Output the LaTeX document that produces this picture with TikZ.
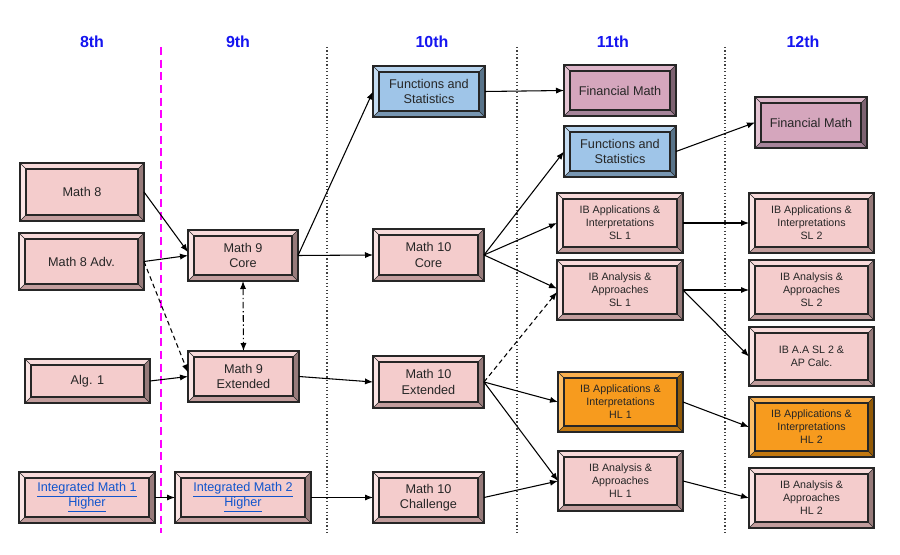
\documentclass[tikz,border=0pt]{standalone}
\usepackage{fontspec}
\setmainfont{Liberation Sans}
\usetikzlibrary{arrows.meta,fit}
\definecolor{pkM}{HTML}{F4CCCC}\definecolor{pkT}{HTML}{F8DADA}\definecolor{pkL}{HTML}{FAE4E4}\definecolor{pkB}{HTML}{C29D9D}\definecolor{pkR}{HTML}{977B7B}
\definecolor{blM}{HTML}{9FC5E8}\definecolor{blT}{HTML}{B7D4EE}\definecolor{blL}{HTML}{C6DDF2}\definecolor{blB}{HTML}{7796B2}\definecolor{blR}{HTML}{587389}
\definecolor{mvM}{HTML}{D5A6BD}\definecolor{mvT}{HTML}{DDB6C9}\definecolor{mvL}{HTML}{E5C5D4}\definecolor{mvB}{HTML}{A6849A}\definecolor{mvR}{HTML}{7D6271}
\definecolor{orM}{HTML}{F79B1E}\definecolor{orT}{HTML}{FAB04E}\definecolor{orL}{HTML}{FDBE66}\definecolor{orB}{HTML}{C27810}\definecolor{orR}{HTML}{935A06}
\definecolor{hdr}{HTML}{1515F0}
\definecolor{lnk}{HTML}{1155CC}
\definecolor{mag}{HTML}{FF00FF}
\newcommand\ibf{\fontsize{8}{9.7}\selectfont}
\newcommand\bgf{\fontsize{9.5}{11.3}\selectfont}
\newcommand\bevbox[8]{%
 \node[fit={(#2,#3)(#4,#5)},inner sep=0pt,outer sep=0pt] (#1) {};
 \fill[#6M] (#1.north west) rectangle (#1.south east);
 \fill[#6T] (#1.north west) -- (#1.north east) -- ([shift={(-6,6)}]#1.north east) -- ([shift={(6,6)}]#1.north west) -- cycle;
 \fill[#6L] (#1.north west) -- ([shift={(6,6)}]#1.north west) -- ([shift={(6,-6)}]#1.south west) -- (#1.south west) -- cycle;
 \fill[#6B] (#1.south west) -- ([shift={(6,-6)}]#1.south west) -- ([shift={(-6,-6)}]#1.south east) -- (#1.south east) -- cycle;
 \fill[#6R] (#1.north east) -- (#1.south east) -- ([shift={(-6,-6)}]#1.south east) -- ([shift={(-6,6)}]#1.north east) -- cycle;
 \draw[boxline] (#1.north west) rectangle (#1.south east);
 \draw[boxline] ([shift={(6,6)}]#1.north west) rectangle ([shift={(-6,-6)}]#1.south east);
 \draw[boxline,line width=0.5pt] (#1.north west) -- ([shift={(6,6)}]#1.north west)
   (#1.north east) -- ([shift={(-6,6)}]#1.north east)
   (#1.south west) -- ([shift={(6,-6)}]#1.south west)
   (#1.south east) -- ([shift={(-6,-6)}]#1.south east);
 \node[align=center,text=black!85,inner sep=0pt,#7] (#1t) at (#1.center) {#8};
}
\tikzset{
 boxline/.style={draw=black!85,line width=0.9pt},
 big/.style={font=\bgf},
 small/.style={font=\ibf},
 link/.style={font=\bgf,text=lnk},
 arr/.style={-{Latex[length=6pt,width=4.6pt]},line width=0.8pt,black},
 dsh/.style={arr,dash pattern=on 3.5pt off 2.5pt},
 hdrtxt/.style={text=hdr,font=\bfseries\fontsize{12}{14}\selectfont},
 dotl/.style={black!75,line width=0.9pt,dash pattern=on 0.9pt off 1.7pt},
}
\begin{document}
\begin{tikzpicture}[x=0.75pt,y=-0.75pt]
\useasboundingbox (0,0) rectangle (900,555);
% headers
\node[hdrtxt] (h8) at (92,42) {8th};
\node[hdrtxt] (h9) at (238,42) {9th};
\node[hdrtxt] (h10) at (432,42) {10th};
\node[hdrtxt] (h11) at (613,42) {11th};
\node[hdrtxt] (h12) at (803,42) {12th};
% separators
\coordinate (s1a) at (161,47); \coordinate (s1b) at (161,533);
\coordinate (s2a) at (327,47); \coordinate (s2b) at (327,533);
\coordinate (s3a) at (517,47); \coordinate (s3b) at (517,533);
\coordinate (s4a) at (725,47); \coordinate (s4b) at (725,533);
\draw[mag,line width=1.2pt,dash pattern=on 6pt off 3.5pt] (s1a) -- (s1b);
\draw[dotl] (s2a) -- (s2b);
\draw[dotl] (s3a) -- (s3b);
\draw[dotl] (s4a) -- (s4b);
% boxes
\bevbox{m8}{20}{163}{144}{221}{pk}{big}{Math 8}
\bevbox{m8a}{19}{233}{144}{290}{pk}{big}{Math 8 Adv.}
\bevbox{alg}{25}{359}{150}{403}{pk}{big}{Alg. 1}
\bevbox{im1}{19}{472}{155}{523}{pk}{link}{\underline{Integrated Math 1}\\\underline{Higher}}
\bevbox{m9c}{188}{230}{298}{281}{pk}{big}{Math 9\\Core}
\bevbox{m9e}{188}{351}{299}{402}{pk}{big}{Math 9\\Extended}
\bevbox{im2}{175}{472}{311}{523}{pk}{link}{\underline{Integrated Math 2}\\\underline{Higher}}
\bevbox{fs10}{373}{66}{485}{117}{bl}{big}{Functions and\\Statistics}
\bevbox{m10c}{373}{229}{484}{281}{pk}{big}{Math 10\\Core}
\bevbox{m10e}{373}{356}{484}{408}{pk}{big}{Math 10\\Extended}
\bevbox{m10h}{373}{472}{484}{523}{pk}{big}{Math 10\\Challenge}
\bevbox{fm11}{564}{65}{676}{116}{mv}{big}{Financial Math}
\bevbox{fs11}{564}{126}{676}{177}{bl}{big}{Functions and\\Statistics}
\bevbox{aisl1}{557}{193}{683}{253}{pk}{small}{IB Applications \&\\Interpretations\\SL 1}
\bevbox{aasl1}{557}{260}{683}{320}{pk}{small}{IB Analysis \&\\Approaches\\SL 1}
\bevbox{aihl1}{558}{372}{683}{432}{or}{small}{IB Applications \&\\Interpretations\\HL 1}
\bevbox{aahl1}{558}{451}{683}{511}{pk}{small}{IB Analysis \&\\Approaches\\HL 1}
\bevbox{fm12}{755}{97}{867}{148}{mv}{big}{Financial Math}
\bevbox{aisl2}{749}{193}{874}{253}{pk}{small}{IB Applications \&\\Interpretations\\SL 2}
\bevbox{aasl2}{749}{260}{874}{320}{pk}{small}{IB Analysis \&\\Approaches\\SL 2}
\bevbox{apc}{749}{327}{874}{386}{pk}{small}{IB A.A SL 2 \&\\AP Calc.}
\bevbox{aihl2}{749}{397}{874}{457}{or}{small}{IB Applications \&\\Interpretations\\HL 2}
\bevbox{aahl2}{749}{468}{874}{528}{pk}{small}{IB Analysis \&\\Approaches\\HL 2}
% connectors
\draw[arr] (m8.east) -- ([yshift=2.5pt]m9c.west);
\draw[arr] (m8a.east) -- (m9c.west);
\draw[dsh] (m8a.east) -- ([yshift=3pt]m9e.west);
\draw[{Latex[length=6pt,width=4.6pt]}-{Latex[length=6pt,width=4.6pt]},line width=0.8pt,dash pattern=on 5pt off 2pt on 1pt off 2pt] (m9c.south) -- (m9e.north);
\draw[arr] (alg.east) -- (m9e.west);
\draw[arr] (im1.east) -- (im2.west);
\draw[arr] (im2.east) -- (m10h.west);
\draw[arr] (m9c.east) -- (fs10.west);
\draw[arr] (m9c.east) -- (m10c.west);
\draw[arr] (m9e.east) -- (m10e.west);
\draw[arr] (fs10.east) -- (fm11.west);
\draw[arr] (m10c.east) -- (fs11.west);
\draw[arr] (m10c.east) -- (aisl1.west);
\draw[arr] (m10c.east) -- ([yshift=1pt]aasl1.west);
\draw[dsh] (m10e.east) -- ([yshift=-1.5pt]aasl1.west);
\draw[arr] (m10e.east) -- (aihl1.west);
\draw[arr] (m10e.east) -- (aahl1.west);
\draw[arr] (m10h.east) -- (aahl1.west);
\draw[arr] (fs11.east) -- (fm12.west);
\draw[arr] (aisl1.east) -- (aisl2.west);
\draw[arr] (aasl1.east) -- (aasl2.west);
\draw[arr] (aasl1.east) -- (apc.west);
\draw[arr] (aihl1.east) -- (aihl2.west);
\draw[arr] (aahl1.east) -- (aahl2.west);
\end{tikzpicture}
\end{document}
